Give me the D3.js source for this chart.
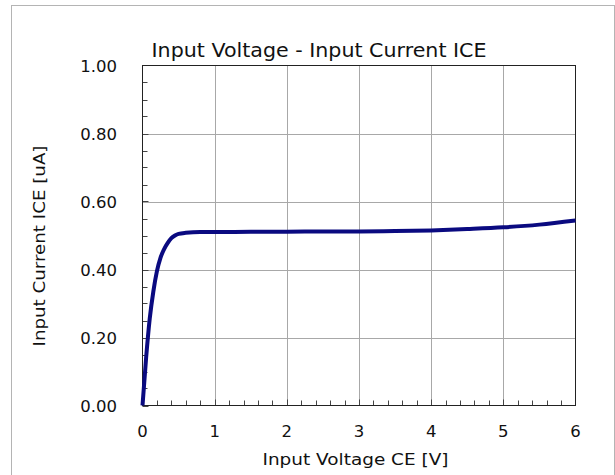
<!DOCTYPE html>
<html>
<head>
<meta charset="utf-8">
<script src="https://cdn.jsdelivr.net/npm/d3@7"></script>
<style>
  body { margin: 0; background: #fff; }
  text { font-family: "DejaVu Sans", Verdana, sans-serif; fill: #111; }
</style>
</head>
<body>
<script>
// data
var voltage = [0, 0.05, 0.1, 0.15, 0.2, 0.25, 0.3, 0.35, 0.4, 0.45, 0.5, 0.6, 0.8, 1, 1.5, 2, 2.5, 3, 3.5, 4, 4.5, 5, 5.5, 6];
var current = [0, 0.14, 0.255, 0.335, 0.395, 0.435, 0.46, 0.478, 0.492, 0.500, 0.505, 0.508, 0.510, 0.510, 0.511, 0.511, 0.512, 0.512, 0.513, 0.515, 0.519, 0.524, 0.532, 0.544];
var xTicks = [0, 1, 2, 3, 4, 5, 6];
var yTicks = [0, 0.2, 0.4, 0.6, 0.8, 1.0];

var width = 615, height = 475;
var svg = d3.select('body').append('svg')
  .attr('width', width)
  .attr('height', height);

// outer frame
svg.append('rect')
  .attr('x', 11.5).attr('y', 5.5)
  .attr('width', 603).attr('height', 480)
  .attr('fill', 'none')
  .attr('stroke', '#b4b4b4');

var x = d3.scaleLinear().domain([0, 6]).range([142.5, 575.5]);
var y = d3.scaleLinear().domain([0, 1]).range([405.5, 65.5]);

// grid
svg.append('g').selectAll('line')
  .data(xTicks.slice(1, -1))
  .enter().append('line')
  .attr('x1', d => Math.round(x(d)) + 0.5).attr('x2', d => Math.round(x(d)) + 0.5)
  .attr('y1', y(1)).attr('y2', y(0))
  .attr('stroke', '#a8a8a8');
svg.append('g').selectAll('line')
  .data(yTicks.slice(1, -1))
  .enter().append('line')
  .attr('y1', d => Math.round(y(d)) + 0.5).attr('y2', d => Math.round(y(d)) + 0.5)
  .attr('x1', x(0)).attr('x2', x(6))
  .attr('stroke', '#a8a8a8');

// minor + major ticks, pointing inside
var xMinor = d3.range(0, 30).map(i => i * 0.2);
svg.append('g').selectAll('line')
  .data(xMinor)
  .enter().append('line')
  .attr('x1', d => Math.round(x(d)) + 0.5).attr('x2', d => Math.round(x(d)) + 0.5)
  .attr('y1', y(0)).attr('y2', d => y(0) - (Math.abs(d - Math.round(d)) < 1e-6 ? 6 : 5))
  .attr('stroke', '#444');
var yMinor = d3.range(0, 20).map(i => i * 0.05);
svg.append('g').selectAll('line')
  .data(yMinor)
  .enter().append('line')
  .attr('y1', d => Math.round(y(d)) + 0.5).attr('y2', d => Math.round(y(d)) + 0.5)
  .attr('x1', x(0)).attr('x2', d => x(0) + (Math.abs(d * 5 - Math.round(d * 5)) < 1e-6 ? 6 : 5))
  .attr('stroke', '#444');

// plot frame
svg.append('rect')
  .attr('x', x(0)).attr('y', y(1))
  .attr('width', x(6) - x(0)).attr('height', y(0) - y(1))
  .attr('fill', 'none')
  .attr('stroke', '#222');

// tick labels
svg.append('g').selectAll('text')
  .data(xTicks)
  .enter().append('text')
  .attr('x', d => x(d)).attr('y', 437)
  .attr('text-anchor', 'middle')
  .style('font-size', '16.5px')
  .text(d => d);
svg.append('g').selectAll('text')
  .data(yTicks)
  .enter().append('text')
  .attr('x', 117).attr('y', d => y(d) + 6)
  .attr('text-anchor', 'end')
  .style('font-size', '16.5px')
  .text(d => d.toFixed(2));

// curve
var line = d3.line()
  .x((d, i) => x(voltage[i]))
  .y(d => y(d))
  .curve(d3.curveMonotoneX);
svg.append('path')
  .datum(current)
  .attr('d', line)
  .attr('fill', 'none')
  .attr('stroke', '#0a0a80')
  .attr('stroke-width', 4)
  .attr('stroke-linejoin', 'round');

// titles (Verdana is wider than DejaVu, so stretch to the same length)
svg.append('text')
  .attr('x', 319).attr('y', 57)
  .attr('text-anchor', 'middle')
  .attr('textLength', 335)
  .attr('lengthAdjust', 'spacingAndGlyphs')
  .style('font-size', '19px')
  .text('Input Voltage - Input Current ICE');
svg.append('text')
  .attr('x', 355.5).attr('y', 465)
  .attr('text-anchor', 'middle')
  .attr('textLength', 186)
  .attr('lengthAdjust', 'spacingAndGlyphs')
  .style('font-size', '16.5px')
  .text('Input Voltage CE [V]');
svg.append('text')
  .attr('transform', 'translate(45,246) rotate(-90)')
  .attr('text-anchor', 'middle')
  .attr('textLength', 201)
  .attr('lengthAdjust', 'spacingAndGlyphs')
  .style('font-size', '16.5px')
  .text('Input Current ICE [uA]');
</script>
</body>
</html>
